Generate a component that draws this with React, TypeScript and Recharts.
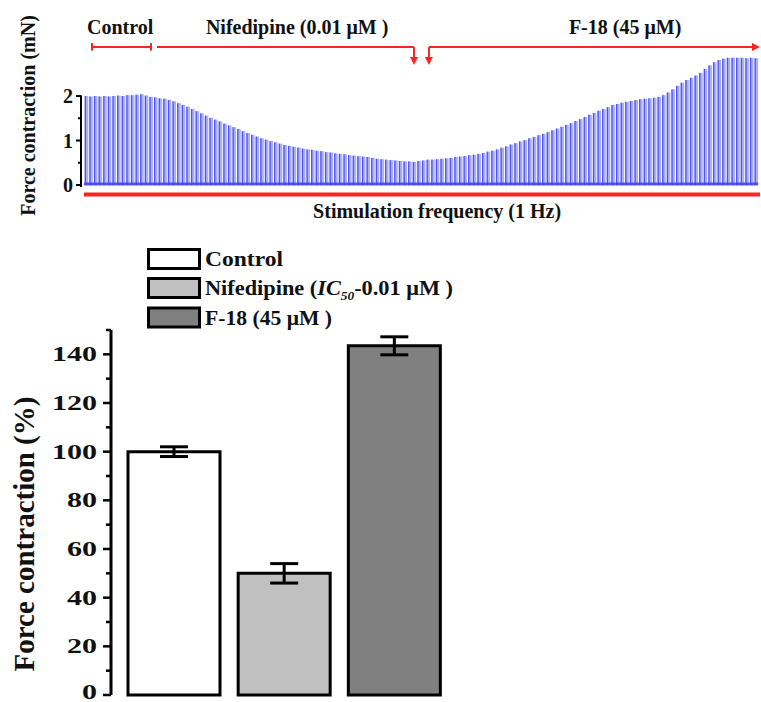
import React from 'react';
import {
  ComposedChart,
  Bar,
  XAxis,
  YAxis,
  ReferenceLine,
  ReferenceDot,
  Cell,
  ErrorBar,
  Legend,
  Label,
} from 'recharts';

const FONT = '"Liberation Serif", "Times New Roman", Times, serif';
const RED = '#ff2323';
const INK = '#111111';

// ---------- Top panel: force trace, one peak per beat (1 Hz stimulation), mN ----------
const beatPeaks = [
  2.0, 1.99, 2.0, 1.99, 2.0, 1.99, 2.0, 2.01, 2.0, 2.02,
  2.02, 2.03, 2.04, 2.01, 1.98, 1.97, 1.95, 1.94, 1.91, 1.88,
  1.84, 1.8, 1.76, 1.71, 1.66, 1.61, 1.56, 1.51, 1.47, 1.43,
  1.38, 1.34, 1.3, 1.26, 1.21, 1.17, 1.13, 1.09, 1.05, 1.02,
  0.99, 0.96, 0.93, 0.9, 0.88, 0.86, 0.84, 0.82, 0.8, 0.79,
  0.77, 0.76, 0.74, 0.73, 0.71, 0.7, 0.69, 0.67, 0.66, 0.65,
  0.64, 0.63, 0.61, 0.59, 0.58, 0.57, 0.56, 0.55, 0.54, 0.53,
  0.53, 0.52, 0.54, 0.55, 0.57, 0.57, 0.58, 0.59, 0.6, 0.61,
  0.63, 0.64, 0.65, 0.67, 0.68, 0.7, 0.72, 0.75, 0.77, 0.8,
  0.84, 0.87, 0.91, 0.94, 0.98, 1.01, 1.05, 1.08, 1.12, 1.15,
  1.19, 1.23, 1.27, 1.31, 1.35, 1.39, 1.44, 1.48, 1.53, 1.58,
  1.62, 1.67, 1.71, 1.75, 1.8, 1.82, 1.85, 1.87, 1.89, 1.91,
  1.93, 1.94, 1.95, 1.96, 1.98, 2.02, 2.08, 2.15, 2.23, 2.3,
  2.36, 2.41, 2.46, 2.52, 2.61, 2.69, 2.76, 2.81, 2.84, 2.86,
  2.86, 2.86, 2.86, 2.85, 2.86, 2.85,
];
const traceBaseline = 0.02;
const traceTicks = [0, 0.5, 1, 1.5, 2];
const traceDomainX = [-1.08, 145.9];
const traceDomainY = [-0.045, 2.9];

// phase annotations (beat index)
const phaseNames = ['Control', 'Nifedipine (0.01 μM )', 'F-18 (45 μM)'];
const phaseNameBeats = [7.4, 45.7, 116.7];
const controlSpan = [1.3, 14.07];
const nifedipineSpan = [15.37, 71.0];
const f18Span = [74.24, 145.5];
const phaseLineLevel = 3.1;
const arrowTipLevel = 2.7;

// ---------- Bottom panel: bar chart ----------
const groups = ['Control', 'Nifedipine', 'F-18'];
const forcePct = [100, 50, 143.5];
const forceErr = [2, 4, 3.7];
const groupFills = ['#ffffff', '#c0c0c0', '#808080'];
const pctTicks = [0, 10, 20, 30, 40, 50, 60, 70, 80, 90, 100, 110, 120, 130, 140, 150];

const traceData = beatPeaks.map((v, i) => ({ t: i, peak: v }));
const barData = groups.map((g, i) => ({ name: g, value: forcePct[i], err: forceErr[i] }));

const SpikeShape = (p: any) => {
  const { x, y, width, height } = p;
  if (height == null || isNaN(height)) return null;
  return (
    <g>
      <rect x={x} y={y} width={width} height={height} fill="#aab0f8" />
      <rect x={x} y={y} width={1.3} height={height} fill="#3b3bec" opacity={0.8} />
    </g>
  );
};

const TraceTick = (p: any) => {
  const y = p.y;
  const v = p.payload.value;
  const major = Number.isInteger(v);
  return (
    <g>
      <line x1={major ? 76 : 78} x2={81} y1={y} y2={y} stroke="#000" strokeWidth={2} />
      {major && (
        <text x={73} y={y + 7} textAnchor="end" fontFamily={FONT} fontWeight="bold" fontSize={20} fill={INK}>
          {v}
        </text>
      )}
    </g>
  );
};

const PctTick = (p: any) => {
  const y = p.y;
  const v = p.payload.value;
  const major = v % 20 === 0;
  return (
    <g>
      <line x1={major ? 103 : 106} x2={111} y1={y} y2={y} stroke="#000" strokeWidth={2.5} />
      {major && v !== 150 && (
        <text
          transform={`translate(97 ${v === 0 ? y + 4 : y + 7}) scale(1.43 1)`}
          textAnchor="end"
          fontFamily={FONT}
          fontWeight="bold"
          fontSize={21}
          fill={INK}
        >
          {v}
        </text>
      )}
    </g>
  );
};

const textDot = (label: string, size: number, anchor: string = 'middle') => (p: any) => (
  <text x={p.cx} y={p.cy} textAnchor={anchor} fontFamily={FONT} fontWeight="bold" fontSize={size} fill={INK}>
    {label}
  </text>
);

const ArrowDown = (p: any) => (
  <path d={`M${p.cx - 4},${p.cy - 8} L${p.cx + 4},${p.cy - 8} L${p.cx},${p.cy} Z`} fill={RED} />
);
const ArrowRight = (p: any) => (
  <path d={`M${p.cx - 8},${p.cy - 4} L${p.cx - 8},${p.cy + 4} L${p.cx},${p.cy} Z`} fill={RED} />
);

const legendTop = [19.5, 48.5, 78];
const legendBaseline = [36, 65, 95];
const legendWidths = [78, 248, 127];

const LegendContent = () => (
  <svg width={761} height={110} style={{ display: 'block', overflow: 'visible' }}>
    {groups.map((g, i) => (
      <g key={g}>
        <rect x={148.5} y={legendTop[i]} width={51} height={19} fill={groupFills[i]} stroke="#000" strokeWidth={3} />
        <text
          x={205}
          y={legendBaseline[i]}
          fontFamily={FONT}
          fontWeight="bold"
          fontSize={20}
          fill={INK}
          textLength={legendWidths[i]}
          lengthAdjust="spacingAndGlyphs"
        >
          {i === 0 && 'Control'}
          {i === 1 && (
            <>
              {'Nifedipine ('}
              <tspan fontStyle="italic">IC</tspan>
              <tspan fontStyle="italic" fontSize={12} dy={5}>
                50
              </tspan>
              <tspan dy={-5}>{'-0.01 μM )'}</tspan>
            </>
          )}
          {i === 2 && 'F-18 (45 μM )'}
        </text>
      </g>
    ))}
  </svg>
);

export default function App() {
  return (
    <div style={{ position: 'absolute', left: 0, top: 0, width: 761, height: 702, background: '#fff' }}>
      <div style={{ position: 'absolute', left: 0, top: 0 }}>
        <ComposedChart width={761} height={230} data={traceData} margin={{ top: 56, right: 1, bottom: 43, left: 0 }}>
          <XAxis type="number" dataKey="t" domain={traceDomainX} hide allowDataOverflow />
          <YAxis
            type="number"
            domain={traceDomainY}
            ticks={traceTicks}
            interval={0}
            width={81}
            axisLine={false}
            tickLine={false}
            tick={<TraceTick />}
            allowDataOverflow
          >
            <Label
              content={(p: any) => {
                const vb = p.viewBox;
                const cx = 35;
                const cy = vb.y + vb.height / 2 - 6;
                return (
                  <text
                    x={cx}
                    y={cy}
                    transform={`rotate(-90 ${cx} ${cy})`}
                    textAnchor="middle"
                    fontFamily={FONT}
                    fontWeight="bold"
                    fontSize={20}
                    fill={INK}
                  >
                    Force contraction (mN)
                  </text>
                );
              }}
            />
          </YAxis>
          <Bar dataKey="peak" barSize={3.6} shape={<SpikeShape />} isAnimationActive={false} />
          <ReferenceLine
            segment={[{ x: -0.4, y: traceBaseline }, { x: 145.5, y: traceBaseline }]}
            stroke="#3a3aea"
            strokeWidth={3}
            strokeOpacity={0.8}
            ifOverflow="visible"
          />
          {/* y axis line (0 - 2 mN) */}
          <ReferenceLine
            segment={[{ x: traceDomainX[0], y: -0.045 }, { x: traceDomainX[0], y: 2.02 }]}
            stroke="#000"
            strokeWidth={2}
            ifOverflow="visible"
          />
          {/* stimulation bar */}
          <ReferenceLine
            segment={[{ x: -0.43, y: -0.214 }, { x: 145.9, y: -0.214 }]}
            stroke={RED}
            strokeWidth={4}
            ifOverflow="visible"
          />
          <ReferenceDot x={76} y={-0.742} r={0} ifOverflow="visible" shape={textDot('Stimulation frequency (1 Hz)', 20)} />
          {/* phase labels */}
          {phaseNames.map((n, i) => (
            <ReferenceDot key={n} x={phaseNameBeats[i]} y={3.395} r={0} ifOverflow="visible" shape={textDot(n, 20)} />
          ))}
          {/* control bracket */}
          <ReferenceLine
            segment={[{ x: controlSpan[0], y: phaseLineLevel }, { x: controlSpan[1], y: phaseLineLevel }]}
            stroke={RED}
            strokeWidth={2}
            ifOverflow="visible"
          />
          <ReferenceLine
            segment={[{ x: controlSpan[0], y: 3.02 }, { x: controlSpan[0], y: 3.19 }]}
            stroke={RED}
            strokeWidth={2}
            ifOverflow="visible"
          />
          <ReferenceLine
            segment={[{ x: controlSpan[1], y: 3.02 }, { x: controlSpan[1], y: 3.19 }]}
            stroke={RED}
            strokeWidth={2}
            ifOverflow="visible"
          />
          {/* nifedipine arrow */}
          <ReferenceLine
            segment={[{ x: nifedipineSpan[0], y: phaseLineLevel }, { x: nifedipineSpan[1], y: phaseLineLevel }]}
            stroke={RED}
            strokeWidth={2}
            ifOverflow="visible"
          />
          <ReferenceLine
            segment={[{ x: nifedipineSpan[1], y: phaseLineLevel }, { x: nifedipineSpan[1], y: 2.8 }]}
            stroke={RED}
            strokeWidth={2}
            ifOverflow="visible"
          />
          <ReferenceDot x={nifedipineSpan[1]} y={arrowTipLevel} r={0} ifOverflow="visible" shape={ArrowDown} />
          {/* F-18 arrow */}
          <ReferenceLine
            segment={[{ x: f18Span[0], y: phaseLineLevel }, { x: f18Span[1], y: phaseLineLevel }]}
            stroke={RED}
            strokeWidth={2}
            ifOverflow="visible"
          />
          <ReferenceLine
            segment={[{ x: f18Span[0], y: phaseLineLevel }, { x: f18Span[0], y: 2.8 }]}
            stroke={RED}
            strokeWidth={2}
            ifOverflow="visible"
          />
          <ReferenceDot x={f18Span[0]} y={arrowTipLevel} r={0} ifOverflow="visible" shape={ArrowDown} />
          <ReferenceDot x={145.9} y={phaseLineLevel} r={0} ifOverflow="visible" shape={ArrowRight} />
        </ComposedChart>
      </div>

      <div style={{ position: 'absolute', left: 0, top: 230 }}>
        <ComposedChart width={761} height={472} data={barData} margin={{ top: 100, right: 299, bottom: 7, left: 0 }}>
          <XAxis
            dataKey="name"
            type="category"
            height={0}
            tick={false}
            tickLine={false}
            axisLine={{ stroke: '#000', strokeWidth: 3 }}
            padding={{ left: 8, right: 12.5 }}
          />
          <YAxis
            type="number"
            domain={[0, 150]}
            ticks={pctTicks}
            interval={0}
            width={111}
            axisLine={{ stroke: '#000', strokeWidth: 3 }}
            tickLine={false}
            tick={<PctTick />}
          >
            <Label
              content={(p: any) => {
                const vb = p.viewBox;
                const cx = 34;
                const cy = vb.y + vb.height / 2 + 21.5;
                return (
                  <text
                    x={cx}
                    y={cy}
                    transform={`rotate(-90 ${cx} ${cy})`}
                    textAnchor="middle"
                    fontFamily={FONT}
                    fontWeight="bold"
                    fontSize={29}
                    fill={INK}
                  >
                    Force contraction (%)
                  </text>
                );
              }}
            />
          </YAxis>
          <Bar dataKey="value" barSize={92} stroke="#000" strokeWidth={3} isAnimationActive={false}>
            {barData.map((d, i) => (
              <Cell key={d.name} fill={groupFills[i]} />
            ))}
            <ErrorBar dataKey="err" width={14} stroke="#000" strokeWidth={3} />
          </Bar>
          <Legend
            layout="horizontal"
            verticalAlign="middle"
            align="center"
            content={<LegendContent />}
            wrapperStyle={{ left: 0, top: 0, width: 761, height: 110 }}
          />
        </ComposedChart>
      </div>
    </div>
  );
}
